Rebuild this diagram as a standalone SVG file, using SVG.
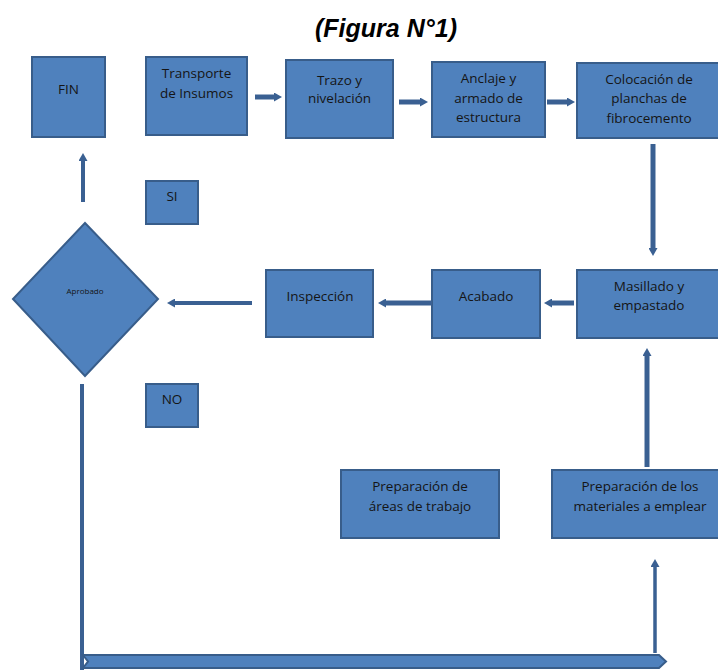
<svg xmlns="http://www.w3.org/2000/svg" width="718" height="670" viewBox="0 0 718 670">
<style>
.box{fill:#4F81BD;stroke:#385D8A;stroke-width:2}
.t{font-family:"Open Sans","Liberation Sans",sans-serif;font-size:13.5px;fill:#151515;text-anchor:middle}
.c{fill:none;stroke:#3A6092;stroke-width:5}
.title{font-family:"Liberation Sans",Arial,sans-serif;font-size:25px;font-weight:bold;font-style:italic;fill:#000;text-anchor:middle}
</style>
<defs>
<marker id="ah" markerUnits="userSpaceOnUse" markerWidth="8" markerHeight="9" viewBox="0 0 8 9" refX="2" refY="4.5" orient="auto">
<path d="M0,0 L8,4.5 L0,9 z" fill="#3A6092"/>
</marker>
</defs>
<text class="title" x="386" y="37">(Figura N°1)</text>
<g id="fin"><rect class="box" x="32" y="57" width="73" height="80"/><text class="t" x="68.5" y="94">FIN</text></g>
<g id="transporte"><rect class="box" x="146" y="57" width="101" height="78"/><text class="t" x="196.5" y="78">Transporte</text><text class="t" x="196.5" y="98">de Insumos</text></g>
<g id="trazo"><rect class="box" x="286" y="60" width="107" height="78"/><text class="t" x="339.5" y="85">Trazo y</text><text class="t" x="339.5" y="103">nivelación</text></g>
<g id="anclaje"><rect class="box" x="432" y="62" width="113" height="75"/><text class="t" x="488.5" y="83">Anclaje y</text><text class="t" x="488.5" y="103">armado de</text><text class="t" x="488.5" y="122">estructura</text></g>
<g id="colocacion"><rect class="box" x="577" y="63" width="146" height="75"/><text class="t" x="649" y="84">Colocación de</text><text class="t" x="649" y="103">planchas de</text><text class="t" x="649" y="123">fibrocemento</text></g>
<g id="si"><rect class="box" x="146" y="181" width="52" height="43"/><text class="t" x="172" y="201">SI</text></g>
<g id="aprobado"><polygon class="box" points="85,223 158,299 85,376 13,299"/><text class="t" x="85" y="294" style="font-size:8px">Aprobado</text></g>
<g id="inspeccion"><rect class="box" x="266" y="270" width="107" height="67"/><text class="t" x="320" y="301">Inspección</text></g>
<g id="acabado"><rect class="box" x="432" y="270" width="108" height="68"/><text class="t" x="486" y="301">Acabado</text></g>
<g id="masillado"><rect class="box" x="577" y="270" width="146" height="68"/><text class="t" x="649" y="291">Masillado y</text><text class="t" x="649" y="310">empastado</text></g>
<g id="no"><rect class="box" x="146" y="384" width="52" height="43"/><text class="t" x="172" y="404">NO</text></g>
<g id="prep-areas"><rect class="box" x="341" y="470" width="158" height="68"/><text class="t" x="420" y="491">Preparación de</text><text class="t" x="420" y="511">áreas de trabajo</text></g>
<g id="prep-materiales"><rect class="box" x="552" y="470" width="171" height="68"/><text class="t" x="640" y="491">Preparación de los</text><text class="t" x="640" y="511">materiales a emplear</text></g>
<g id="connectors">
<line class="c" x1="255" y1="97" x2="276" y2="97" marker-end="url(#ah)"/>
<line class="c" x1="399" y1="102" x2="422" y2="102" marker-end="url(#ah)"/>
<line class="c" x1="547" y1="102" x2="569" y2="102" marker-end="url(#ah)"/>
<line class="c" x1="653" y1="144" x2="653" y2="250" marker-end="url(#ah)"/>
<line class="c" x1="574" y1="303" x2="550" y2="303" marker-end="url(#ah)"/>
<line class="c" x1="432" y1="303" x2="384" y2="303" marker-end="url(#ah)"/>
<line class="c" x1="252" y1="303" x2="173" y2="303" style="stroke-width:4" marker-end="url(#ah)"/>
<line class="c" x1="83" y1="202" x2="83" y2="159" style="stroke-width:4" marker-end="url(#ah)"/>
<line class="c" x1="647" y1="467" x2="647" y2="354" marker-end="url(#ah)"/>
<line class="c" x1="82" y1="384" x2="82" y2="670" style="stroke-width:4"/>
<line class="c" x1="655" y1="653" x2="655" y2="565" style="stroke-width:3.5" marker-end="url(#ah)"/>
<polygon points="83,655 659,655 666,661.5 659,668 83,668 88,661.5" fill="#4F81BD" stroke="#385D8A" stroke-width="2"/>
</g>
</svg>
